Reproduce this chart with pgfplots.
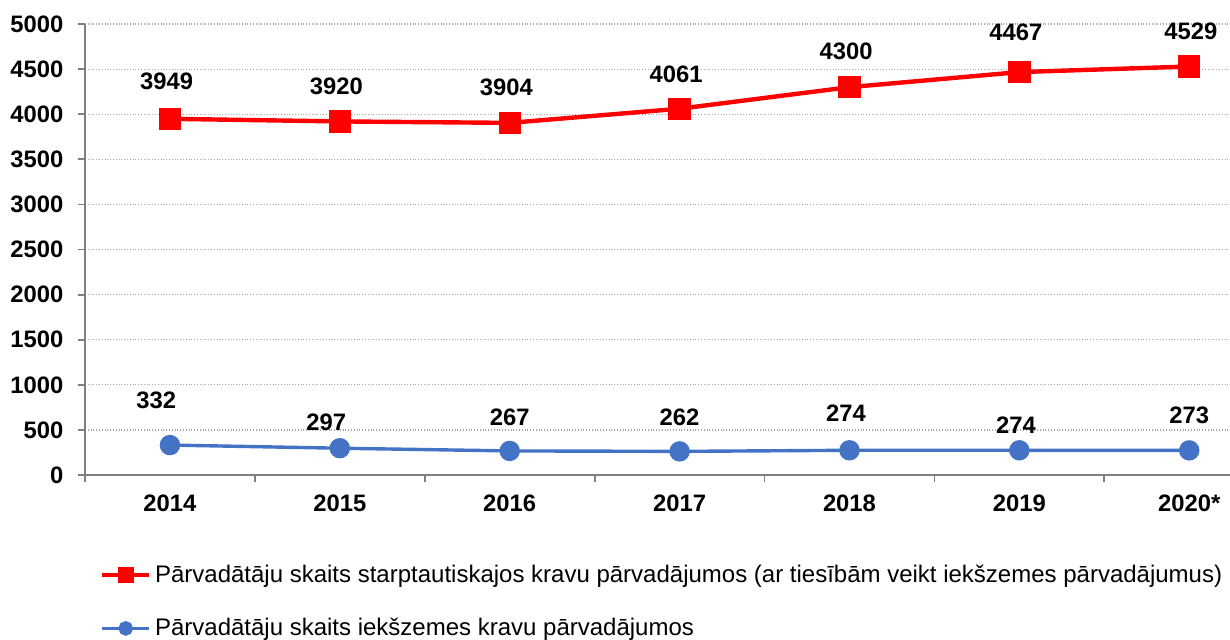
\documentclass[border=0pt]{standalone}
\usepackage{pgfplots}
\pgfplotsset{compat=1.18}
\usepackage{fontspec}
\setmainfont{Liberation Sans}
\definecolor{redS}{HTML}{FF0000}
\definecolor{blueS}{HTML}{4472C4}
\definecolor{axgray}{HTML}{808080}
\begin{document}
\begin{tikzpicture}
\begin{axis}[
  at={(0,0)}, anchor=south west,
  scale only axis,
  width=572.5pt, height=225.5pt,
  xmin=-0.5, xmax=6.24,
  ymin=0, ymax=5000,
  ytick={0,500,...,5000},
  xtick={-0.5,0.5,...,5.5},
  xticklabels={},
  extra x ticks={0,1,2,3,4,5,6},
  extra x tick labels={2014,2015,2016,2017,2018,2019,2020*},
  extra x tick style={major tick length=0pt, grid=none},
  axis x line*=bottom, axis y line*=left,
  axis line style={axgray, line width=0.9pt},
  tick style={axgray, line width=0.9pt},
  tick align=outside,
  major tick length=3.5pt,
  ymajorgrids,
  grid style={gray!70, densely dotted, line width=0.6pt},
  /pgf/number format/1000 sep={},
  /pgf/number format/assume math mode=true,
  tick label style={font=\fontsize{11.9}{13}\selectfont\bfseries},
  yticklabel style={xshift=-3.8pt},
  xticklabel style={yshift=-6.5pt},
  clip=false,
  legend style={draw=none, fill=none, at={(0.0131,-0.19)}, anchor=north west,
    font=\fontsize{12}{13}\selectfont, row sep=12.3pt, inner sep=0pt,
    cells={anchor=west}},
  legend cell align=left,
  legend image code/.code={%
    \draw[mark repeat=2,mark phase=2,#1] plot coordinates {(0cm,0cm)(0.41cm,0cm)(0.82cm,0cm)};},
]
\addplot[redS, line width=2.2pt, mark=square*, mark size=4.5pt, mark options={solid},
  legend image post style={mark size=3pt, line width=2pt}]
 coordinates {(0,3949)(1,3920)(2,3904)(3,4061)(4,4300)(5,4467)(6,4529)};
\addlegendentry{Pārvadātāju skaits starptautiskajos kravu pārvadājumos (ar tiesībām veikt iekšzemes pārvadājumus)}
\addplot[blueS, line width=1.7pt, mark=*, mark size=4.25pt,
  legend image post style={mark size=2.8pt}]
 coordinates {(0,332)(1,297)(2,267)(3,262)(4,274)(5,274)(6,273)};
\addlegendentry{Pārvadātāju skaits iekšzemes kravu pārvadājumos}
\addplot[draw=none, nodes near coords, point meta=explicit symbolic,
  every node near coord/.append style={font=\fontsize{11.9}{13}\selectfont\bfseries, anchor=center, text=black}, forget plot]
 coordinates {(-0.02,4367)[3949](0.98,4311)[3920](1.98,4300)[3904](2.98,4444)[4061](3.98,4700)[4300](4.98,4911)[4467](6.01,4922)[4529]
 (-0.08,833)[332](0.92,589)[297](2,644)[267](3,644)[262](3.98,689)[274](4.98,556)[274](6,667)[273]};
\end{axis}
\pgfresetboundingbox
\path (-42.5pt,-82pt) rectangle (572.5pt,237.5pt);
\end{tikzpicture}
\end{document}
